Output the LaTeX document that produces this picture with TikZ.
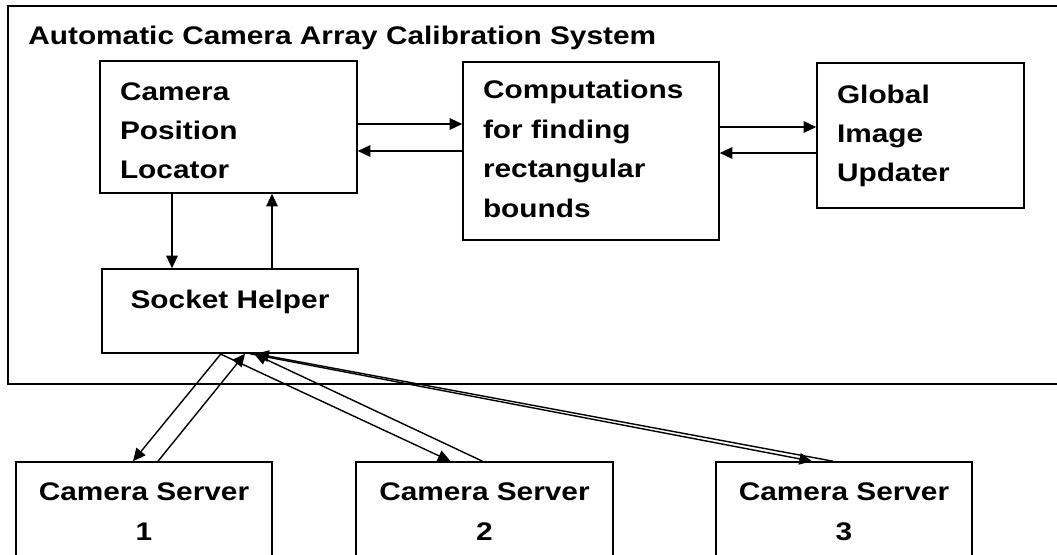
\documentclass[tikz,border=0pt]{standalone}
\usepackage{fontspec}
\setmainfont{Liberation Sans}[FakeStretch=1.17]
\usetikzlibrary{arrows.meta,calc}

\begin{document}
\begin{tikzpicture}[x=0.02cm,y=-0.02cm,
  box/.style={draw,line width=0.9pt,inner xsep=0pt,inner ysep=0pt,text depth=3pt,
    font=\fontsize{14.5}{22.4}\selectfont\bfseries},
  lbox/.style={box,align=left,text height=11pt},
  cbox/.style={box,align=center},
  link/.style={-{Triangle[length=7.2pt,width=6.6pt]},line width=0.8pt}]
\useasboundingbox (0,0) rectangle (1057,554);
\clip (0,0) rectangle (1057,554);

% ---------------- system frame (runs off the right edge) ----------------
\draw[line width=1.1pt] (1070,6) -- (8,6) -- (8,384) -- (1070,384);
\node[font=\fontsize{14.5}{22.4}\selectfont\bfseries,anchor=base west,inner sep=0pt] (title) at (28,45)
  {Automatic Camera Array Calibration System};

% ---------------- blocks inside the system ----------------
\node[lbox,minimum width=5.14cm,minimum height=2.64cm,text width=4.34cm,text height=17.2pt,text depth=47.8pt] (cpl) at (228.5,127)
  {Camera\\Position\\Locator};
\node[lbox,minimum width=5.12cm,minimum height=3.56cm,text width=4.32cm,text depth=70.2pt] (comp) at (591,151)
  {Computations\\for finding\\rectangular\\bounds};
\node[lbox,minimum width=4.14cm,minimum height=2.90cm,text width=3.34cm,text depth=47.8pt] (glob) at (920.5,135.5)
  {Global\\Image\\Updater};
\node[cbox,minimum width=5.12cm,minimum height=1.68cm,text height=11pt,text depth=14.4pt] (sock) at (230,311)
  {Socket Helper};

% ---------------- camera servers ----------------
\node[cbox,minimum width=5.12cm,minimum height=2.06cm,text height=33.4pt] (cs1) at (144,513.5) {Camera Server\\1};
\node[cbox,minimum width=5.14cm,minimum height=2.06cm,text height=33.4pt] (cs2) at (484.5,513.5) {Camera Server\\2};
\node[cbox,minimum width=5.12cm,minimum height=2.06cm,text height=33.4pt] (cs3) at (844,513.5) {Camera Server\\3};

% ---------------- horizontal links ----------------
\coordinate (r1) at (0,124);
\coordinate (r2) at (0,151);
\coordinate (r3) at (0,127);
\coordinate (r4) at (0,153);
\draw[link] (cpl.east |- r1) -- (comp.west |- r1);
\draw[link] (comp.west |- r2) -- (cpl.east |- r2);
\draw[link] (comp.east |- r3) -- (glob.west |- r3);
\draw[link] (glob.west |- r4) -- (comp.east |- r4);

% ---------------- locator <-> socket helper ----------------
\coordinate (v1) at (172,0);
\coordinate (v2) at (272,0);
\draw[link] (cpl.south -| v1) -- (sock.north -| v1);
\draw[link] (sock.north -| v2) -- (cpl.south -| v2);

% ---------------- socket helper <-> servers ----------------
\draw[link] ($(sock.south)+(-9,0)$) -- ($(cs1.north)+(-11,0)$);
\draw[link] ($(cs1.north)+(14,0)$) -- ($(sock.south)+(15,0)$);
\draw[link] ($(sock.south)+(-10,0)$) -- ($(cs2.north)+(-34,0)$);
\draw[link] ($(cs2.north)+(-2,0)$) -- ($(sock.south)+(24,0)$);
\draw[link] ($(sock.south)+(20,0)$) -- ($(cs3.north)+(-32,0)$);
\draw[link] ($(cs3.north)+(-11,0)$) -- ($(sock.south)+(26,0)$);
\end{tikzpicture}
\end{document}
